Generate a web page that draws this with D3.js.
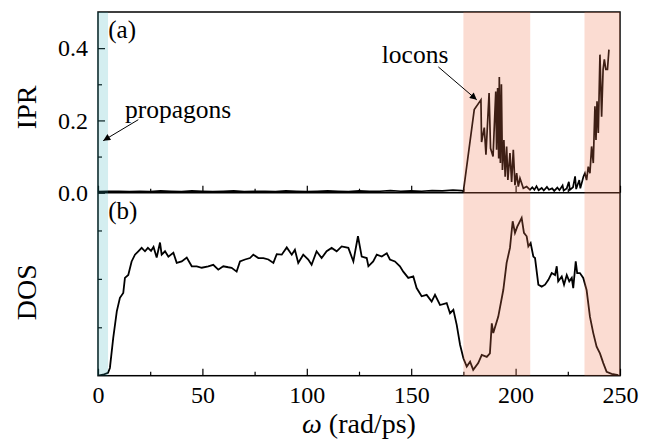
<!DOCTYPE html>
<html>
<head>
<meta charset="utf-8">
<script src="https://cdn.jsdelivr.net/npm/d3@7"></script>
<style>
  body { margin: 0; background: #fff; }
  text { font-family: "Liberation Serif", "Times New Roman", serif; fill: #000; }
</style>
</head>
<body>
<div id="chart"></div>
<script>
// IPR (panel a)
const iprOmega = [0, 5, 10, 15, 20, 25, 30, 35, 40, 45, 50, 55, 60, 65, 70, 75, 80, 85, 90, 95,
  100, 105, 110, 115, 120, 125, 130, 135, 140, 145, 150, 155, 160, 165, 170, 174, 175,
  180.2, 183.4, 183.7, 185, 185.8, 187.3, 188, 189.2, 190.5, 190.9, 191.4, 191.9, 192.2, 192.7,
  193.2, 193.7, 194.4, 195, 195.7, 196.3, 197.3, 198.1, 198.9, 199.7, 200.5, 201.3, 202.1, 203.7,
  205.3, 206.9, 208, 209, 210, 211, 212.5, 213.5, 215, 216, 217.5, 218.5, 220, 221, 222.5, 223,
  224.5, 225.5, 226, 227.5, 228.5, 229, 230.5, 231, 232.5, 233.2, 234, 234.8, 235.6, 236.4,
  237.2, 238, 238.5, 239, 239.6, 240.4, 241.2, 241.9, 242.5, 243.2, 244, 244.7];
const iprValue = [0.003, 0.004, 0.004, 0.003, 0.004, 0.003, 0.005, 0.004, 0.003, 0.005, 0.004, 0.003,
  0.004, 0.005, 0.003, 0.004, 0.004, 0.003, 0.005, 0.004, 0.003, 0.004, 0.005, 0.004, 0.003, 0.005,
  0.004, 0.004, 0.006, 0.004, 0.005, 0.004, 0.006, 0.005, 0.007, 0.006, 0.004,
  0.23, 0.257, 0.14, 0.18, 0.105, 0.276, 0.123, 0.1, 0.28, 0.119, 0.29, 0.095, 0.32, 0.082,
  0.3, 0.063, 0.146, 0.044, 0.128, 0.035, 0.11, 0.03, 0.119, 0.021, 0.054, 0.017, 0.04, 0.012,
  0.017, 0.008, 0.015, 0.008, 0.018, 0.007, 0.013, 0.006, 0.016, 0.008, 0.012, 0.005, 0.014, 0.007,
  0.02, 0.006, 0.012, 0.03, 0.008, 0.015, 0.045, 0.01, 0.035, 0.012, 0.045, 0.054, 0.035, 0.072,
  0.054, 0.128, 0.082, 0.239, 0.146, 0.253, 0.165, 0.382, 0.21, 0.341, 0.369, 0.341, 0.341, 0.396];

// DOS (panel b), arbitrary units
const dosOmega = [0, 2.4, 4.8, 5.7, 7.3, 9, 10.5, 12.1, 12.9, 14.5, 16.1, 17.7, 19.3, 20.9, 22.5,
  23.9, 25.4, 26.6, 28.1, 29.7, 30.5, 32.1, 33.7, 36.1, 37.7, 40.1, 42.5, 44.9, 47.3, 49.7, 52.8,
  55.2, 57.6, 60, 62.4, 64, 66.4, 68, 70.4, 72.8, 74.4, 76.8, 79.2, 81.6, 84, 85.6, 88, 90.4, 92.8,
  94.3, 95.9, 98.3, 100.7, 102.3, 104.7, 107.1, 109.5, 111.9, 114.3, 116.7, 119.9, 122.3, 124.5,
  126.3, 128.7, 129.5, 131.8, 133.5, 135.9, 138.3, 139.8, 142.2, 144.6, 146.2, 148.6, 151, 152.6,
  155, 157.4, 159.8, 161.4, 163.8, 167, 168.6, 170.2, 171.8, 173.4, 175, 176.6, 178.2, 179.7,
  182.1, 183.8, 186.2, 187.7, 188.6, 189.3, 191.7, 194.1, 195.7, 197.3, 198.6, 199.7, 200.8,
  202.9, 204, 205.3, 206.1, 207.2, 208.5, 209.3, 210.9, 212.5, 214.1, 215.7, 217.3, 218.9, 219.7,
  220.4, 222.1, 223.2, 224.5, 225.7, 226.9, 227.6, 228.8, 229.5, 230.8, 232.4, 234, 235.6, 237.2,
  238.8, 240.4, 242, 243.6, 246, 249.2];
const dosValue = [0, 0.02, 0.06, 0.16, 0.78, 1.33, 1.61, 1.71, 2.02, 2.08, 2.36, 2.5, 2.57, 2.64, 2.57,
  2.64, 2.58, 2.66, 2.44, 2.75, 2.5, 2.57, 2.46, 2.54, 2.33, 2.36, 2.44, 2.26, 2.26, 2.23, 2.26,
  2.29, 2.19, 2.26, 2.24, 2.23, 2.15, 2.36, 2.4, 2.43, 2.5, 2.43, 2.43, 2.4, 2.33, 2.51, 2.5, 2.65, 2.5,
  2.6, 2.33, 2.5, 2.4, 2.29, 2.57, 2.43, 2.57, 2.64, 2.57, 2.67, 2.64, 2.36, 2.88,
  2.46, 2.43, 2.26, 2.36, 2.5, 2.46, 2.53, 2.4, 2.36, 2.26, 2.15, 2.02, 2.05, 1.81,
  1.64, 1.67, 1.53, 1.67, 1.46, 1.5, 1.29, 1.36, 1.05, 0.64, 0.36, 0.19, 0.29, 0.12,
  0.26, 0.43, 0.39, 0.46, 1.08, 0.88, 1.22, 1.77, 2.33, 2.64, 3.19, 2.95, 3.08,
  3.26, 2.95, 2.88, 2.67, 2.74, 2.46, 2.43, 1.88, 1.84, 1.88, 1.98, 2.12, 2.08, 2.26,
  1.95, 2.05, 1.88, 2.08, 1.95, 2.02, 1.81, 2.36, 2.12, 2.12, 2.02, 1.77, 1.22, 0.88,
  0.6, 0.46, 0.26, 0.08, 0.04, 0.01];

const xMajor = [0, 50, 100, 150, 200, 250];
const xMinor = [25, 75, 125, 175, 225];
const iprMajor = [0, 0.2, 0.4];
const iprMinor = [0.1, 0.3];
const dosTicks = [1, 2, 3];

// shaded bands [from, to] in rad/ps
const propagonBand = [0, 4.8];
const loconBands = [[175, 207], [233, 250]];

const width = 661;
const height = 442;
const plotLeft = 98, plotRight = 620, plotTop = 12, plotMid = 192.7, plotBottom = 375.7;

const svg = d3
  .select("#chart")
  .append("svg")
  .attr("width", width)
  .attr("height", height);

const x = d3.scaleLinear().domain([0, 250]).range([plotLeft, plotRight]);
const yA = d3.scaleLinear().domain([0, 0.5]).range([plotMid, plotTop]);
const yB = d3.scaleLinear().domain([0, 3.78]).range([plotBottom, plotMid]);

// clip for each panel
const defs = svg.append("defs");
defs.append("clipPath").attr("id", "clipA")
  .append("rect").attr("x", plotLeft).attr("y", plotTop)
  .attr("width", plotRight - plotLeft).attr("height", plotMid - plotTop);
defs.append("clipPath").attr("id", "clipB")
  .append("rect").attr("x", plotLeft).attr("y", plotMid)
  .attr("width", plotRight - plotLeft).attr("height", plotBottom - plotMid);
defs.append("marker")
  .attr("id", "arrow")
  .attr("viewBox", "0 0 10 10")
  .attr("refX", 10)
  .attr("refY", 5)
  .attr("markerUnits", "userSpaceOnUse")
  .attr("markerWidth", 10)
  .attr("markerHeight", 7)
  .attr("orient", "auto")
  .append("path")
  .attr("d", "M0,0 L10,5 L0,10 z")
  .style("fill", "#000");

// data lines
const iprLine = d3.line().x((d, i) => x(iprOmega[i])).y(d => yA(d));
svg.append("path")
  .attr("d", iprLine(iprValue))
  .attr("clip-path", "url(#clipA)")
  .style("fill", "none")
  .style("stroke", "#000")
  .style("stroke-width", 1.7);

const dosLine = d3.line().x((d, i) => x(dosOmega[i])).y(d => yB(d));
svg.append("path")
  .attr("d", dosLine(dosValue))
  .attr("clip-path", "url(#clipB)")
  .style("fill", "none")
  .style("stroke", "#000")
  .style("stroke-width", 1.8);

// axes (ticks point inward)
function styleAxis(g) {
  g.select(".domain").remove();
  g.selectAll("line").style("stroke", "#000").style("stroke-width", 1.2);
  g.selectAll("text").style("font-size", "24px").style("font-family", "'Liberation Serif', serif");
}

svg.append("g")
  .attr("transform", `translate(0,${plotBottom})`)
  .call(d3.axisBottom(x).tickValues(xMajor).tickSize(-7).tickPadding(10).tickFormat(d3.format("d")))
  .call(styleAxis);
svg.append("g")
  .attr("transform", `translate(0,${plotBottom})`)
  .call(d3.axisBottom(x).tickValues(xMinor).tickSize(-4).tickFormat(""))
  .call(styleAxis);
svg.append("g")
  .attr("transform", `translate(0,${plotMid})`)
  .call(d3.axisBottom(x).tickValues(xMajor).tickSize(-7).tickFormat(""))
  .call(styleAxis);
svg.append("g")
  .attr("transform", `translate(0,${plotMid})`)
  .call(d3.axisBottom(x).tickValues(xMinor).tickSize(-4).tickFormat(""))
  .call(styleAxis);

svg.append("g")
  .attr("transform", `translate(${plotLeft},0)`)
  .call(d3.axisLeft(yA).tickValues(iprMajor).tickSize(-7).tickPadding(10).tickFormat(d3.format(".1f")))
  .call(styleAxis);
svg.append("g")
  .attr("transform", `translate(${plotLeft},0)`)
  .call(d3.axisLeft(yA).tickValues(iprMinor).tickSize(-4).tickFormat(""))
  .call(styleAxis);
svg.append("g")
  .attr("transform", `translate(${plotLeft},0)`)
  .call(d3.axisLeft(yB).tickValues(dosTicks).tickSize(-4).tickFormat(""))
  .call(styleAxis);

// frame and divider
svg.append("rect")
  .attr("x", plotLeft).attr("y", plotTop)
  .attr("width", plotRight - plotLeft).attr("height", plotBottom - plotTop)
  .style("fill", "none").style("stroke", "#000").style("stroke-width", 1.5);
svg.append("line")
  .attr("x1", plotLeft).attr("x2", plotRight).attr("y1", plotMid).attr("y2", plotMid)
  .style("stroke", "#000").style("stroke-width", 1.5);

// translucent bands drawn over the curves
svg.append("rect")
  .attr("x", x(propagonBand[0]) - 1)
  .attr("y", plotTop)
  .attr("width", x(propagonBand[1]) - x(propagonBand[0]) + 1)
  .attr("height", plotBottom - plotTop)
  .style("fill", "rgb(40,170,180)")
  .style("opacity", 0.2);

svg.selectAll(".locon")
  .data(loconBands)
  .enter()
  .append("rect")
  .attr("class", "locon")
  .attr("x", d => x(d[0]))
  .attr("y", plotTop)
  .attr("width", d => x(d[1]) - x(d[0]))
  .attr("height", plotBottom - plotTop)
  .style("fill", "rgb(240,120,80)")
  .style("opacity", 0.26);

// panel labels
svg.append("text").attr("x", x(4.9)).attr("y", yA(0.427)).style("font-size", "25px").text("(a)");
svg.append("text").attr("x", x(4.9)).attr("y", yB(3.24)).style("font-size", "25px").text("(b)");

// axis titles
svg.append("text")
  .attr("transform", `translate(36,${(plotTop + plotMid) / 2 + 5}) rotate(-90)`)
  .attr("text-anchor", "middle")
  .style("font-size", "28px")
  .text("IPR");
svg.append("text")
  .attr("transform", `translate(36,${(plotMid + plotBottom) / 2 + 8}) rotate(-90)`)
  .attr("text-anchor", "middle")
  .style("font-size", "28px")
  .text("DOS");

const xTitle = svg.append("text")
  .attr("x", (plotLeft + plotRight) / 2)
  .attr("y", 433)
  .attr("text-anchor", "middle")
  .style("font-size", "28px");
xTitle.append("tspan").style("font-style", "italic").text("ω");
xTitle.append("tspan").text(" (rad/ps)");

// annotations
svg.append("text").attr("x", x(12.9)).attr("y", yA(0.2075)).style("font-size", "25.5px").text("propagons");
svg.append("line")
  .attr("x1", x(19.3)).attr("y1", yA(0.202))
  .attr("x2", x(2.5)).attr("y2", yA(0.144))
  .style("stroke", "#000").style("stroke-width", 1)
  .attr("marker-end", "url(#arrow)");

svg.append("text").attr("x", x(135.9)).attr("y", yA(0.359)).style("font-size", "25.5px").text("locons");
svg.append("line")
  .attr("x1", x(163)).attr("y1", yA(0.348))
  .attr("x2", x(181.4)).attr("y2", yA(0.257))
  .style("stroke", "#000").style("stroke-width", 1)
  .attr("marker-end", "url(#arrow)");
</script>
</body>
</html>
